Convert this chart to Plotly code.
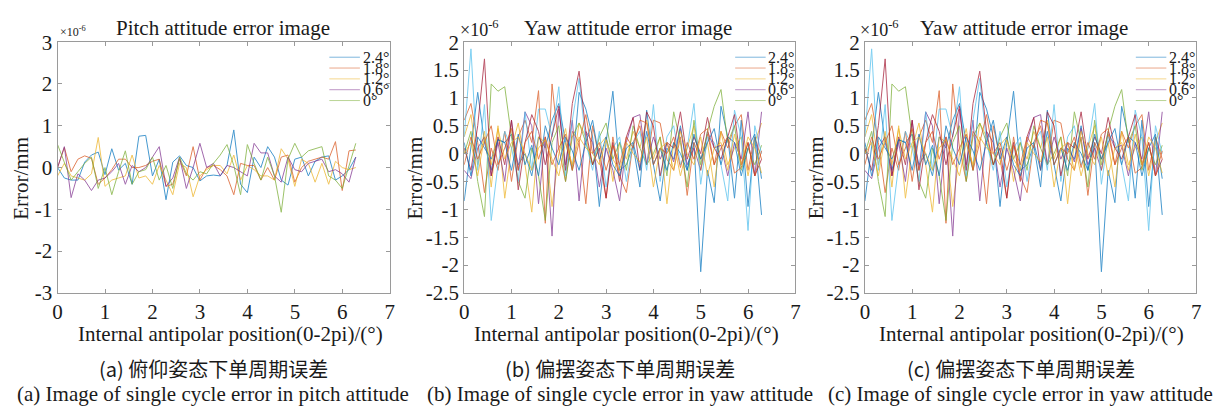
import numpy as np
import plotly.graph_objects as go

# ---------------- data (values in units of 1e-6 mm) ----------------
legend_labels = ["2.4°", "1.8°", "1.2°", "0.6°", "0°"]

pitch_24 = [0.0, -0.25, -0.3, -0.3, 0.13, 0.3, 0.37, -0.17, 0.45, -0.06, 0.1, -0.4, 0.75, 0.77, -0.2,
            0.2, -0.77, 0.13, 0.28, 0.05, 0.0, -0.32, -0.2, -0.18, -0.2, 0.05, 0.9, -0.4, -0.6, 0.25,
            0.0, 0.5, 0.25, -0.3, -0.42, 0.2, 0.25, -0.2, 0.15, 0.25, 0.28, -0.3, -0.2, -0.05, 0.25]
pitch_18 = [0.0, 0.48, -0.1, 0.2, 0.28, 0.22, -0.4, -0.25, -0.05, 0.2, 0.2, 0.0, 0.0, 0.05, 0.15,
            0.2, -0.45, -0.4, 0.2, -0.2, 0.5, -0.3, 0.0, 0.05, -0.05, -0.2, -0.65, 0.1, 0.05, 0.05,
            -0.3, 0.0, -0.3, 0.25, 0.3, -0.35, 0.0, 0.15, 0.2, 0.25, 0.2, 0.62, -0.55, 0.4, 0.42]
pitch_12 = [-0.2, 0.1, -0.2, -0.25, -0.3, -0.15, 0.72, -0.45, -0.3, -0.25, -0.2, 0.3, -0.25, -0.2, -0.4,
            0.05, -0.3, -0.65, 0.1, 0.0, -0.7, -0.2, -0.05, 0.05, 0.05, -0.15, 0.3, -0.3, 0.05, -0.05,
            -0.2, -0.2, -0.3, 0.45, 0.2, -0.45, 0.2, 0.1, -0.35, 0.1, -0.4, 0.15, 0.0, -0.05, 0.0]
pitch_06 = [0.0, 0.5, -0.72, -0.15, -0.3, -0.55, -0.3, -0.25, -0.1, 0.1, -0.4, 0.05, -0.1, 0.0, 0.25,
            0.5, -0.45, -0.25, 0.25, -0.5, 0.0, 0.58, 0.0, 0.1, -0.2, 0.05, 0.0, -0.1, -0.2, 0.58,
            0.35, 0.35, -0.2, -0.35, 0.25, -0.05, -0.1, 0.1, 0.15, 0.2, -0.1, -0.05, -0.15, -0.35, 0.25]
pitch_00 = [0.55, 0.1, -0.3, -0.1, 0.1, 0.25, -0.5, 0.0, -0.65, -0.1, 0.4, -0.4, -0.1, -0.05, 0.25,
            -0.3, 0.05, -0.5, 0.25, -0.15, -0.3, -0.1, -0.15, 0.1, 0.3, 0.55, 0.05, -0.65, 0.55, 0.1,
            -0.3, 0.25, -0.2, -1.07, 0.2, 0.58, 0.25, 0.4, 0.45, 0.5, -0.2, -0.3, -0.5, 0.05, 0.58]

yaw_s1 = [-0.85, 0.1, 1.1, 0.2, -0.3, 0.25, 0.2, 0.35, -0.2, 0.0, -0.4, 0.3, 0.1, 0.6, 0.9,
          0.2, -0.3, 1.1, 0.8, 0.3, -0.95, 0.2, 1.12, -0.3, -0.2, 0.15, -0.6, 0.78, -0.2, -0.85,
          0.1, -0.1, 0.5, -0.3, 0.2, -2.12, -0.3, -0.88, 0.85, 0.3, -0.8, 0.6, -0.95, 0.3, -1.1]
yaw_s2 = [0.6, 0.9, 0.2, -0.7, 0.1, -0.3, 0.4, -0.5, 0.3, 0.6, 0.2, 1.13, -1.25, 1.25, 0.1,
          -0.5, 0.4, 0.2, -0.9, 0.5, -0.1, -0.8, 0.3, -0.4, -0.7, 0.2, 0.5, -0.2, 0.6, 0.55,
          -0.1, -0.3, 0.3, -0.75, 0.2, -0.1, 0.35, -0.2, 0.4, 0.1, 0.5, 0.7, -0.3, 0.3, -0.1]
yaw_s3 = [0.3, 0.7, -0.2, 0.4, -0.6, 0.5, -0.8, 0.1, 0.55, -0.2, -1.05, 0.3, 0.2, -0.95, 0.0,
          0.45, -0.3, 0.55, 0.3, -0.2, 0.15, 0.3, -0.5, 0.2, -0.1, 0.4, 0.1, 0.6, -0.1, 0.3,
          -0.9, 0.2, -0.4, 0.1, 0.5, -0.3, 0.2, -0.6, 0.4, -0.2, 0.1, 0.3, -0.4, 0.2, 0.55]
yaw_s4 = [-0.3, -0.45, 0.1, 0.3, -0.4, 0.2, -0.5, 0.6, -0.3, 0.75, 0.5, -0.9, 0.3, -1.48, 0.8,
          -0.2, 0.6, -0.85, 0.4, 0.2, -0.6, 0.1, -0.3, -0.85, 0.2, 0.65, 0.7, -0.2, 0.3, -0.1,
          0.2, -0.15, 0.45, -0.2, 0.1, -0.3, 0.4, 0.1, 0.15, -0.4, 0.2, -0.1, 0.75, -0.4, 0.75]
yaw_s5 = [0.0, 0.4, -0.5, -1.13, 1.25, 1.12, 1.2, 0.3, -0.5, -0.8, 0.1, -0.4, -1.2, 0.2, 0.5,
          -0.5, 0.3, 0.55, 0.2, -0.2, 0.3, 0.55, -0.1, 0.2, -0.3, 0.5, 0.1, -0.2, 0.0, 0.3,
          -0.4, 0.75, 0.2, -0.6, 0.6, -0.2, 0.4, 0.85, 1.15, 0.2, 0.5, -0.3, 0.1, -0.2, 0.15]
yaw_s6 = [0.3, 1.88, -0.3, 0.88, -1.2, -0.2, 0.4, 0.1, -0.5, 0.75, -0.3, 0.8, 0.8, 0.3, 1.2,
          -0.4, 0.6, 1.35, 0.2, -0.3, 0.4, -0.6, 0.1, 0.3, -0.5, 0.2, 0.4, -0.3, 0.88, -0.5,
          0.3, 0.5, -0.2, 0.1, 0.9, -0.55, 0.3, 0.2, -0.2, -0.85, 0.78, 0.3, -1.38, 0.5, 0.0]
yaw_s7 = [0.1, -0.3, 0.5, 1.7, -0.4, 0.3, -0.2, 0.6, -0.65, 0.2, 0.7, 0.4, -0.2, 0.3, 0.85,
          -0.3, 0.9, 1.48, 0.4, -0.2, 0.1, -0.8, 0.2, -0.5, 0.3, 0.65, -0.3, 0.75, 0.5, -0.4,
          0.2, 0.1, 0.75, -0.1, 0.3, 0.0, 0.65, 0.1, -0.1, 0.3, 0.7, -0.2, 0.2, -0.4, -0.1]
yaw_s8 = [0.2, -0.4, 0.3, 0.1, -0.1, 0.25, 0.2, -0.3, 0.35, -0.2, 0.15, -0.4, 0.5, 0.1, -0.2,
          0.3, 0.05, -0.3, 0.2, 0.6, -0.1, 0.3, -0.2, -0.4, 0.1, 0.2, -0.3, 0.4, -0.2, 0.1,
          -0.3, 0.2, 0.0, -0.3, 0.35, -0.1, 0.2, 0.45, -0.2, 0.3, 0.2, -0.4, 0.1, 0.35, -0.45]
yaw_s9 = [-0.2, 0.3, -0.1, 0.2, 0.5, -0.2, 0.1, 0.45, -0.3, 0.2, 0.4, -0.1, 0.3, -0.2, 0.1,
          0.35, -0.3, 0.2, 0.7, 0.0, 0.2, -0.3, 0.15, -0.2, 0.3, 0.1, 0.6, 0.55, -0.2, 0.1,
          0.0, 0.3, -0.25, 0.2, -0.1, 0.35, 0.45, -0.2, 0.1, 0.3, -0.35, -0.25, 0.2, -0.4, 0.05]
yaw_s10 = [0.0, 0.2, -0.4, 0.3, -0.2, 0.45, -0.1, 0.2, 0.3, 0.0, -0.3, 0.1, 0.25, -0.1, -0.4,
           0.2, -0.2, 0.3, 0.1, 0.0, -0.2, 0.25, -0.1, -0.3, 0.2, 0.0, -0.15, 0.3, -0.6, 0.1,
           0.2, -0.3, 0.4, 0.0, -0.2, 0.3, -0.4, 0.1, 0.2, -0.3, 0.35, -0.2, 0.3, 0.1, -0.35]

pitch_series = [pitch_24, pitch_18, pitch_12, pitch_06, pitch_00]
yaw_series = [yaw_s1, yaw_s2, yaw_s3, yaw_s4, yaw_s5, yaw_s6, yaw_s7, yaw_s8, yaw_s9, yaw_s10]

x_ticks = [0, 1, 2, 3, 4, 5, 6, 7]
pitch_yticks = [-3, -2, -1, 0, 1, 2, 3]
pitch_yticktext = ["-3", "-2", "-1", "0", "1", "2", "3"]
yaw_yticks = [-2.5, -2, -1.5, -1, -0.5, 0, 0.5, 1, 1.5, 2]
yaw_yticktext = ["-2.5", "-2", "-1.5", "-1", "-0.5", "0", "0.5", "1", "1.5", "2"]

titles = ["Pitch attitude error image", "Yaw attitude error image", "Yaw attitude error image"]
x_title = "Internal antipolar position(0-2pi)/(°)"
y_title = "Error/mm"
captions_cn = ["(a) 俯仰姿态下单周期误差", "(b) 偏摆姿态下单周期误差", "(c) 偏摆姿态下单周期误差"]
captions_en = ["(a) Image of single cycle error in pitch attitude",
               "(b) Image of single cycle error in yaw attitude",
               "(c) Image of single cycle error in yaw attitude"]

colors = ["#0072BD", "#D95319", "#EDB120", "#7E2F8E", "#77AC30", "#4DBEEE", "#A2142F"]

# ---------------- figure ----------------
W, H = 1218, 419
SERIF = "Times New Roman, Liberation Serif, serif"
CJK = "Noto Sans CJK SC"
TXT = "#1a1a1a"

fig = go.Figure()

def px_x(p):
    return p / W

def px_y(p):
    return 1 - p / H

domains_x = [[px_x(53), px_x(388)], [px_x(463), px_x(797)], [px_x(867), px_x(1201)]]
domain_y = [px_y(298), px_y(32)]

panels = [(pitch_series, pitch_yticks, pitch_yticktext, [-3, 3]),
          (yaw_series, yaw_yticks, yaw_yticktext, [-2.5, 2]),
          (yaw_series, yaw_yticks, yaw_yticktext, [-2.5, 2])]

axis_col = "#9a9a9a"
for k, (series, yt, ytt, yr) in enumerate(panels):
    xa = "x" if k == 0 else f"x{k+1}"
    ya = "y" if k == 0 else f"y{k+1}"
    for j, vals in enumerate(series):
        xs = np.linspace(0, 2 * np.pi, len(vals))
        fig.add_trace(go.Scatter(x=xs, y=vals, mode="lines", xaxis=xa, yaxis=ya,
                                 line=dict(color=colors[j % len(colors)], width=1),
                                 opacity=0.72, showlegend=False, hoverinfo="skip"))
    common = dict(showgrid=False, zeroline=False, showline=True, linecolor=axis_col, linewidth=1,
                  mirror="ticks", ticks="inside", ticklen=4, tickcolor=axis_col,
                  tickfont=dict(family=SERIF, size=21, color=TXT))
    fig.layout[("xaxis" if k == 0 else f"xaxis{k+1}")] = dict(
        domain=domains_x[k], range=[0, 7], tickvals=x_ticks, anchor=ya, **common)
    fig.layout[("yaxis" if k == 0 else f"yaxis{k+1}")] = dict(
        domain=domain_y, range=yr, tickvals=yt, ticktext=ytt, anchor=xa, **common)

annotations = []
shapes = []
title_cx = [220, 628, 1027]
xlab_cx = [227, 627, 1035]
cap_cx = [210, 620, 1024]
ylab_cx = [16, 413, 818]
for k in range(3):
    annotations.append(dict(x=px_x(title_cx[k]), y=px_y(17), xref="paper", yref="paper",
                            text=titles[k], showarrow=False, xanchor="center", yanchor="middle",
                            font=dict(family=SERIF, size=21, color=TXT)))
    annotations.append(dict(x=px_x(xlab_cx[k]), y=px_y(342), xref="paper", yref="paper",
                            text=x_title, showarrow=False, xanchor="center", yanchor="middle",
                            font=dict(family=SERIF, size=21, color=TXT)))
    annotations.append(dict(x=px_x(cap_cx[k]), y=px_y(378), xref="paper", yref="paper",
                            text=captions_cn[k], showarrow=False, xanchor="center", yanchor="middle",
                            font=dict(family=CJK, size=20, color=TXT)))
    annotations.append(dict(x=px_x(cap_cx[k]), y=px_y(405), xref="paper", yref="paper",
                            text=captions_en[k], showarrow=False, xanchor="center", yanchor="middle",
                            font=dict(family=SERIF, size=21, color=TXT)))
    annotations.append(dict(x=px_x(ylab_cx[k]), y=px_y(176), xref="paper", yref="paper",
                            text=y_title, showarrow=False, xanchor="center", yanchor="middle",
                            textangle=-90, font=dict(family=SERIF, size=21, color=TXT)))
    # legend (custom, compact like MATLAB)
    xd = "x domain" if k == 0 else f"x{k+1} domain"
    yd = "y domain" if k == 0 else f"y{k+1} domain"
    for j, lab in enumerate(legend_labels):
        yy = 0.940 - j * 0.0432
        shapes.append(dict(type="line", xref=xd, yref=yd, x0=0.818, x1=0.910, y0=yy, y1=yy,
                           line=dict(color=colors[j], width=1), opacity=0.5))
        annotations.append(dict(x=0.912, y=yy, xref=xd, yref=yd, text=lab, showarrow=False,
                                xanchor="left", yanchor="middle",
                                font=dict(family=SERIF, size=16, color=TXT)))

# exponent labels
annotations.append(dict(x=px_x(53), y=px_y(31), xref="paper", yref="paper",
                        text="×10<sup>-6</sup>", showarrow=False, xanchor="left", yanchor="bottom",
                        font=dict(family=SERIF, size=12, color=TXT)))
for xl in [457, 860]:
    annotations.append(dict(x=px_x(xl), y=px_y(17), xref="paper", yref="paper",
                            text="×10<sup>-6</sup>", showarrow=False, xanchor="left", yanchor="middle",
                            font=dict(family=SERIF, size=18, color=TXT)))

fig.update_layout(width=W, height=H, margin=dict(l=0, r=0, t=0, b=0),
                  paper_bgcolor="white", plot_bgcolor="white",
                  annotations=annotations, shapes=shapes, showlegend=False)

fig.write_html("out.html")
